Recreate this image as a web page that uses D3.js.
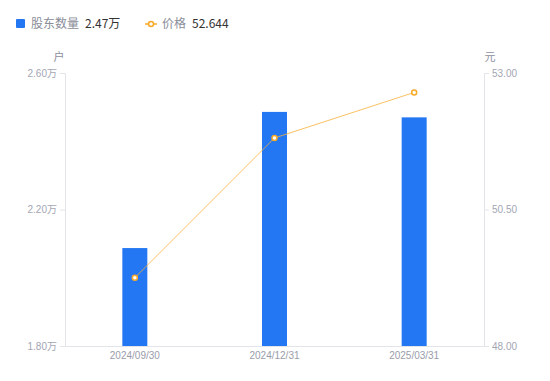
<!DOCTYPE html>
<html><head><meta charset="utf-8">
<script src="https://cdn.jsdelivr.net/npm/d3@7"></script>
<style>body{margin:0;background:#fff;font-family:"Noto Sans CJK SC","Noto Sans",sans-serif}</style>
</head><body><svg id="c" width="550" height="381"></svg>
<script>
const categories = ["2024/09/30", "2024/12/31", "2025/03/31"];
const holders = [2.087, 2.486, 2.47];   // 万户
const prices = [49.25, 51.81, 52.644];  // 元
const leftTicks = [1.80, 2.20, 2.60];
const rightTicks = [48.00, 50.50, 53.00];

const svg = d3.select("#c");
const L = 65, R = 484, T = 73, B = 346;
const x = d3.scaleBand().domain(categories).range([L, R]);
const yL = d3.scaleLinear().domain([1.8, 2.6]).range([B, T]);
const yR = d3.scaleLinear().domain([48, 53]).range([B, T]);
const axisColor = "#e3e4e8", tickText = "#a3a6b4";

// bars
svg.append("g").selectAll("rect").data(holders).join("rect")
  .attr("x", (d, i) => x(categories[i]) + x.bandwidth() / 2 - 12.5)
  .attr("width", 25)
  .attr("y", d => yL(d))
  .attr("height", d => B - yL(d))
  .attr("fill", "#2477f2");

// axes
const gl = svg.append("g").attr("transform", `translate(${L},0)`)
  .call(d3.axisLeft(yL).tickValues(leftTicks).tickSize(5).tickPadding(3).tickFormat(d => d.toFixed(2) + "万"));
const gr = svg.append("g").attr("transform", `translate(${R},0)`)
  .call(d3.axisRight(yR).tickValues(rightTicks).tickSize(5).tickPadding(3).tickFormat(d => d.toFixed(2)));
const gb = svg.append("g").attr("transform", `translate(0,${B})`)
  .call(d3.axisBottom(x).tickSize(0).tickPadding(6));
[gl, gr, gb].forEach(g => {
  g.select(".domain").attr("stroke", axisColor);
  g.selectAll(".tick line").attr("stroke", axisColor);
  g.selectAll("text").attr("fill", tickText).style("font-size", "10px")
    .style("font-family", "'Liberation Sans','Noto Sans CJK SC',sans-serif");
});
gb.selectAll("text").attr("fill", "#9a9caa");

// unit labels
svg.append("text").attr("x", 59).attr("y", 61).attr("text-anchor", "middle")
  .attr("fill", "#8c8f9c").style("font-size", "11px").text("户");
svg.append("text").attr("x", 490).attr("y", 61).attr("text-anchor", "middle")
  .attr("fill", "#8c8f9c").style("font-size", "11px").text("元");

// line
const cx = (d, i) => x(categories[i]) + x.bandwidth() / 2;
svg.append("path").datum(prices)
  .attr("d", d3.line().x(cx).y(d => yR(d)))
  .attr("fill", "none").attr("stroke", "#f7b23b").attr("stroke-opacity", 0.8).attr("stroke-width", 1);
svg.append("g").selectAll("circle").data(prices).join("circle")
  .attr("cx", cx).attr("cy", d => yR(d)).attr("r", 2.5)
  .attr("fill", "#fff").attr("stroke", "#f7a928").attr("stroke-width", 1.5);

// legend
const lg = svg.append("g").style("font-size", "12px");
lg.append("rect").attr("x", 16).attr("y", 19).attr("width", 9).attr("height", 9).attr("rx", 1).attr("fill", "#2477f2");
lg.append("text").attr("x", 31).attr("y", 28).attr("fill", "#8a8d99").text("股东数量");
lg.append("text").attr("x", 85).attr("y", 28).attr("fill", "#333").text(d3.max([holders[2]]).toFixed(2) + "万");
lg.append("line").attr("x1", 145).attr("x2", 157).attr("y1", 24).attr("y2", 24).attr("stroke", "#f7a928").attr("stroke-width", 1.5);
lg.append("circle").attr("cx", 151).attr("cy", 24).attr("r", 2.5).attr("fill", "#fff").attr("stroke", "#f7a928").attr("stroke-width", 1.5);
lg.append("text").attr("x", 162).attr("y", 28).attr("fill", "#8a8d99").text("价格");
lg.append("text").attr("x", 192).attr("y", 28).attr("fill", "#333").text(prices[2].toFixed(3));
</script></body></html>
